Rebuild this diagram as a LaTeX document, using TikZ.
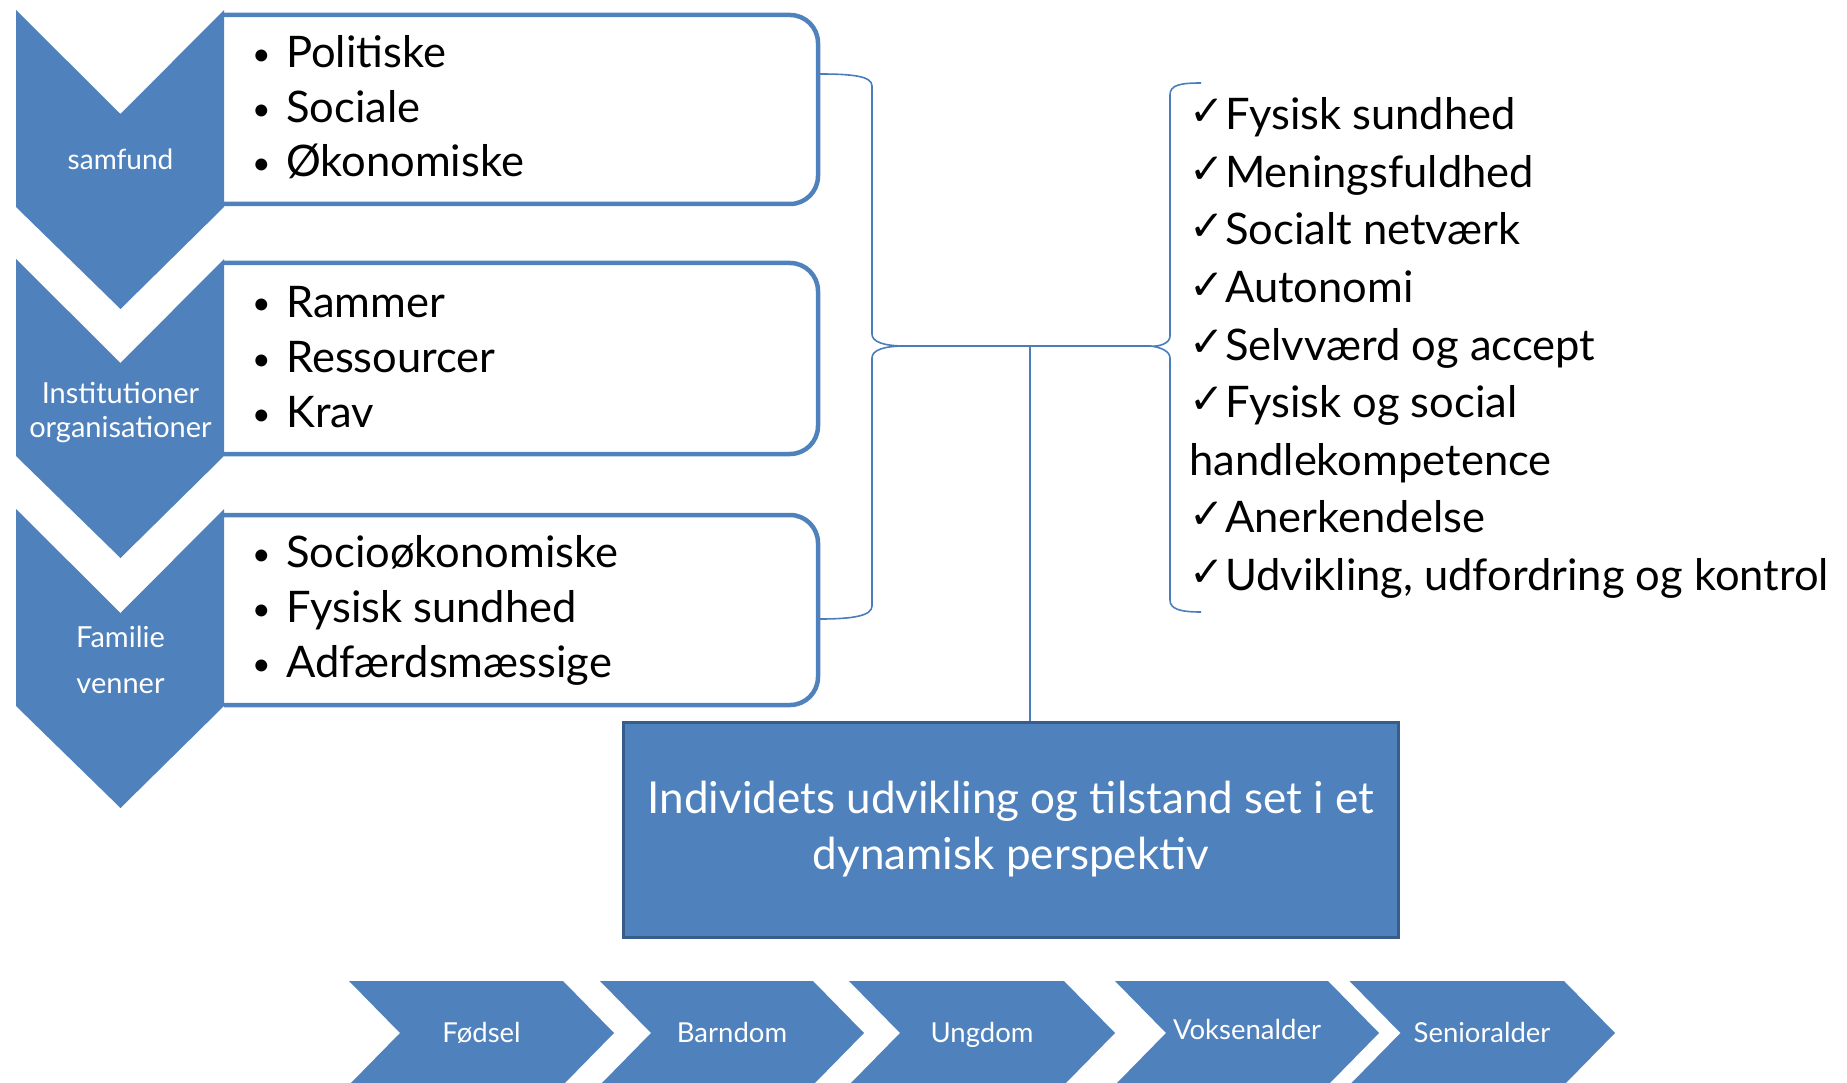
\documentclass[tikz,border=0pt]{standalone}
\usepackage{graphicx}
\usepackage{fontspec}
\setmainfont{Lato}
\newfontfamily\chkfont{DejaVu Sans}
\definecolor{ob}{HTML}{4F81BD}
\definecolor{obd}{HTML}{385D8A}
\definecolor{brc}{HTML}{4A7EBB}
\newcommand\bul{\makebox[40pt][l]{\hspace{6pt}\raisebox{2pt}{\fontsize{32}{40}\selectfont\textbullet}}}
\newcommand\ckm{\makebox[36pt][l]{\raisebox{4pt}{\chkfont\fontsize{42}{42}\selectfont ✓}}}
\begin{document}
\begin{tikzpicture}[x=1pt,y=-1pt,
  chev/.style={fill=ob, draw=none},
  itembox/.style={draw=ob, line width=4.5pt, rounded corners=28pt},
  item/.style={anchor=base west, inner sep=0pt, font=\fontsize{43.5}{50}\selectfont},
  lab/.style={text=white, inner sep=0pt, anchor=base, font=\fontsize{29}{34}\selectfont},
  slab/.style={text=white, inner sep=0pt, anchor=base, font=\fontsize{27.5}{32}\selectfont},
  brace/.style={draw=brc, line width=1.6pt},
  ]
\useasboundingbox (0,0) rectangle (1847,1083);

% left down-pointing chevrons
\foreach \t in {10,259,509}{
  \fill[ob] (16,\t) -- (120.5,\t+104) -- (224,\t) -- (224,\t+197) -- (120.5,\t+299) -- (16,\t+197) -- cycle;
}
% item boxes (open on the left side)
\foreach \t/\b in {15/204,263/454,515/705}{
  \draw[itembox] (224,\t) -- (818,\t) -- (818,\b) -- (224,\b);
}

% chevron labels
\node[lab, font=\fontsize{28}{34}\selectfont] (samf) at (120.5,170) {samfund};
\node[lab] (inst) at (120.5,403) {Institutioner};
\node[lab] (org) at (120.5,437) {organisationer};
\node[lab] (fam) at (120.5,647) {Familie};
\node[lab] (ven) at (120.5,693) {venner};

% items
\node[item] (i11) at (246,68) {\bul Politiske};
\node[item] (i12) at (246,123) {\bul Sociale};
\node[item] (i13) at (246,177) {\bul Økonomiske};
\node[item] (i21) at (246,317) {\bul Rammer};
\node[item] (i22) at (246,372) {\bul Ressourcer};
\node[item] (i23) at (246,427) {\bul Krav};
\node[item] (i31) at (246,567) {\bul Socioøkonomiske};
\node[item] (i32) at (246,622) {\bul Fysisk sundhed};
\node[item] (i33) at (246,677) {\bul Adfærdsmæssige};

% check list
\node[item] (c1) at (1189,130) {\ckm Fysisk sundhed};
\node[item] (c2) at (1189,188) {\ckm Meningsfuldhed};
\node[item] (c3) at (1189,245) {\ckm Socialt netværk};
\node[item] (c4) at (1189,303) {\ckm Autonomi};
\node[item] (c5) at (1189,360) {\ckm Selvværd og accept};
\node[item] (c6) at (1189,417) {\ckm Fysisk og social};
\node[item] (c6b) at (1189,475) {handlekompetence};
\node[item] (c7) at (1189,532) {\ckm Anerkendelse};
\node[item] (c8) at (1189,590) {\ckm Udvikling, udfordring og kontrol};

% central box
\node[fill=ob, draw=obd, line width=3pt, minimum width=775pt, minimum height=215pt,
      text=white, align=center, inner sep=2pt,
      font=\fontsize{44}{56}\selectfont] (ind) at (1011,829.5)
      {\raisebox{-4pt}{Individets udvikling og tilstand set i et}\\\raisebox{-4pt}{dynamisk perspektiv}};

% braces and connectors
\coordinate (b1) at (820,74);
\coordinate (b3) at (820,619);
\coordinate (lbt) at (905,346);
\coordinate (rbt) at (1150,346);
\coordinate (r1) at (1201,83);
\coordinate (r2) at (1201,612);
\coordinate (hub) at (1030,346);
\draw[brace] (b1) .. controls (852,74) and (872,76) .. (872,86) -- (872,334)
   .. controls (872,342) and (884,346) .. (lbt);
\draw[brace] (lbt) .. controls (884,346) and (872,350) .. (872,358) -- (872,606)
   .. controls (872,616) and (852,619) .. (b3);
\draw[brace] (lbt) -- (rbt);
\draw[brace] (r1) .. controls (1180,83) and (1170,85) .. (1170,95) -- (1170,336)
   .. controls (1170,343) and (1160,347) .. (rbt)
   .. controls (1160,347) and (1170,351) .. (1170,358) -- (1170,600)
   .. controls (1170,609) and (1180,612) .. (r2);
\draw[brace] (hub) -- (hub |- ind.north);

% bottom right-pointing chevrons
\foreach \l/\r in {349/563,600/813,849/1064,1115/1328,1349.5/1564}{
  \fill[ob] (\l,981) -- (\r,981) -- (\r+51,1033) -- (\r,1085) -- (\l,1085) -- (\l+51,1033) -- cycle;
}
\node[slab] (s1) at (481.5,1042) {Fødsel};
\node[slab] (s2) at (732,1042) {Barndom};
\node[slab] (s3) at (982,1042) {Ungdom};
\node[slab] (s4) at (1247,1039) {Voksenalder};
\node[slab] (s5) at (1482,1042) {Senioralder};
\end{tikzpicture}
\end{document}
